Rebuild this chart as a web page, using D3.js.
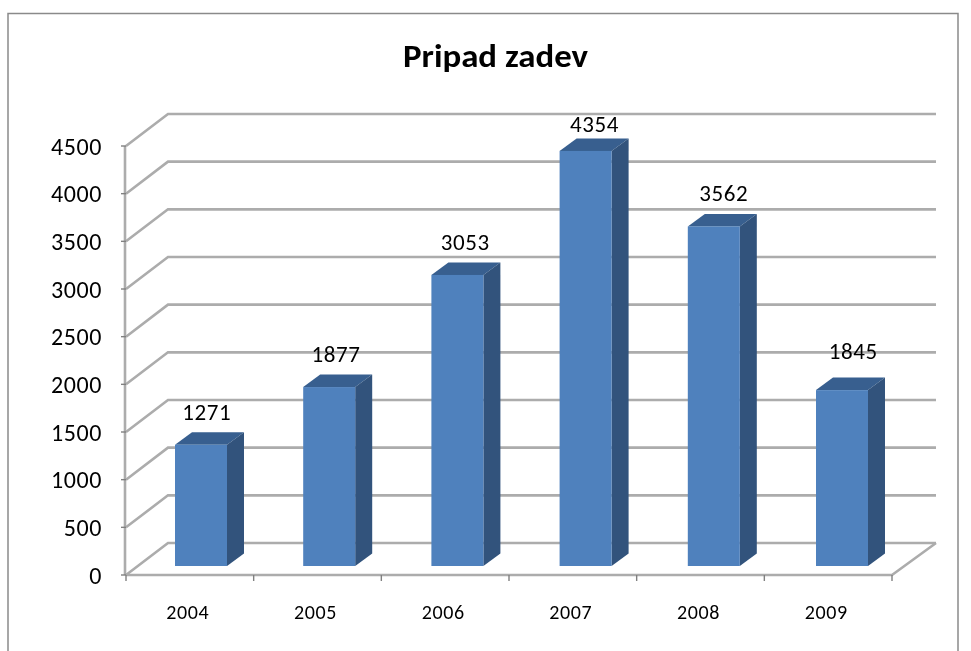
<!DOCTYPE html>
<html><head><meta charset="utf-8">
<script src="https://cdn.jsdelivr.net/npm/d3@7"></script>
<style>html,body{margin:0;padding:0;background:#fff}svg{display:block}</style></head>
<body><svg id="c" width="971" height="651"></svg>
<script>
const categories = ["2004","2005","2006","2007","2008","2009"];
const values = [1271,1877,3053,4354,3562,1845];
const yTicks = [0,500,1000,1500,2000,2500,3000,3500,4000,4500];
const title = "Pripad zadev";

const svg = d3.select("#c");
const font = "Carlito, Calibri, 'Open Sans', sans-serif";
const gray = "#acacac";

const defs = svg.append("defs");
defs.append("filter").attr("id","soft").attr("x","-5%").attr("y","-5%").attr("width","110%").attr("height","110%")
  .append("feGaussianBlur").attr("stdDeviation",0.5);

const root = svg.append("g").attr("filter","url(#soft)");

root.append("rect").attr("x",8).attr("y",13.5).attr("width",950).attr("height",660)
  .attr("fill","#fff").attr("stroke","#8a8a8a").attr("stroke-width",1.5);

root.append("text").attr("x",495.5).attr("y",67).attr("text-anchor","middle")
  .attr("font-family",font).attr("font-weight",700).attr("font-size",32)
  .attr("textLength",185).attr("lengthAdjust","spacingAndGlyphs").attr("fill","#000").text(title);

const x = d3.scaleBand().domain(categories).range([126,892]);
const barX = d3.scaleBand().domain(categories).range([175,175+6*128.2]);
const labelX = d3.scaleBand().domain(categories).range([142,142+6*129.3]);
const yFront = d3.scaleLinear().domain([0,4500]).range([575,146]);
const depth = {dx:42, dy:-32, rightDx:44};

const grid = root.append("g").attr("fill","none").attr("stroke",gray).attr("stroke-width",2.6);
yTicks.forEach(t=>{
  const y0 = yFront(t);
  grid.append("path").attr("d",d3.line()([[x.range()[0],y0],[x.range()[0]+depth.dx,y0+depth.dy],[x.range()[1]+depth.rightDx,y0+depth.dy]]));
});
grid.append("path").attr("d",d3.line()([[x.range()[0],yFront(0)],[x.range()[1],yFront(0)],[x.range()[1]+depth.rightDx,yFront(0)+depth.dy]]));
grid.append("path").attr("d",d3.line()([[x.range()[0]-1,yFront(4500)],[x.range()[0]-1,yFront(0)]]));
const ticks = root.append("g").attr("stroke","#808080").attr("stroke-width",1.4);
yTicks.forEach(t=>ticks.append("line").attr("x1",x.range()[0]-5).attr("x2",x.range()[0]).attr("y1",yFront(t)).attr("y2",yFront(t)));
[...categories.map(c=>x(c)),x.range()[1]].forEach(v=>ticks.append("line").attr("x1",v).attr("x2",v).attr("y1",yFront(0)).attr("y2",yFront(0)+6));

root.append("g").selectAll("text").data(yTicks).join("text")
  .attr("x",102).attr("y",d=>yFront(d)+8.5).attr("text-anchor","end")
  .attr("font-family",font).attr("font-size",24).attr("letter-spacing",0.6).attr("fill","#000").text(d=>d);
root.append("g").selectAll("text").data(categories).join("text")
  .attr("x",d=>x(d)+x.bandwidth()/2-2).attr("y",619).attr("text-anchor","middle")
  .attr("font-family",font).attr("font-size",20).attr("letter-spacing",0.6).attr("fill","#000").text(d=>d);

const barW = 52, sideDx = 17, sideDy = -12.5, baseY = 566;
const scaleH = v => yFront(0)-yFront(v);
const bars = root.append("g").selectAll("g").data(categories.map((c,i)=>({c,v:values[i]}))).join("g");
const poly = pts => d3.line()(pts)+"Z";
bars.append("path").attr("fill","#375f8f").attr("d",d=>{
  const l=barX(d.c), r=l+barW, t=baseY-scaleH(d.v);
  return poly([[l,t],[r,t],[r+sideDx,t+sideDy],[l+sideDx,t+sideDy]]);
});
bars.append("path").attr("fill","#30527c").attr("d",d=>{
  const r=barX(d.c)+barW, t=baseY-scaleH(d.v);
  return poly([[r,t],[r+sideDx,t+sideDy],[r+sideDx,baseY+sideDy],[r,baseY]]);
});
bars.append("rect").attr("fill","#4f81bd")
  .attr("x",d=>barX(d.c)).attr("width",barW)
  .attr("y",d=>baseY-scaleH(d.v)).attr("height",d=>scaleH(d.v));
// The last label sits higher above its bar in the reference.
const labelGap = d => d.c === "2009" ? 31 : 25;
bars.append("text").attr("text-anchor","middle").attr("font-family",font).attr("font-size",23).attr("letter-spacing",0.6).attr("fill","#000")
  .attr("x",d=>labelX(d.c)+labelX.bandwidth()/2)
  .attr("y",d=>Math.max(baseY-scaleH(d.v)-labelGap(d),132)).text(d=>d.v);
</script></body></html>
